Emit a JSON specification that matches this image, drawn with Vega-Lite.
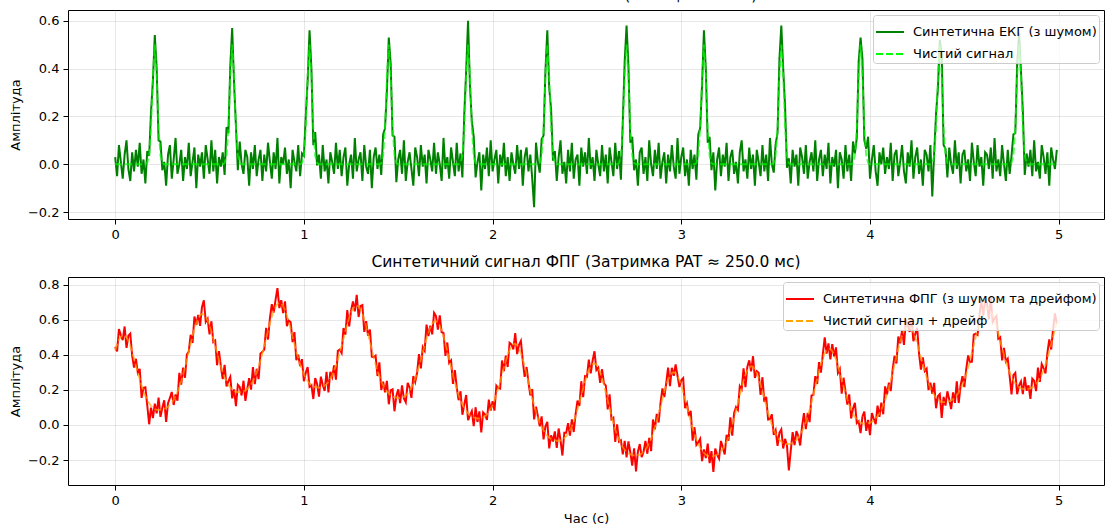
{
"$schema": "https://vega.github.io/schema/vega-lite/v6.json",
"padding": {"left": 8, "top": -13, "right": 0, "bottom": 0},
"spacing": 12,
"config": {
 "font": "DejaVu Sans",
 "view": {"stroke": "#000000", "strokeWidth": 1},
 "axis": {"grid": true, "gridColor": "#b0b0b0", "gridOpacity": 0.3, "gridWidth": 1, "domain": false, "tickColor": "#000000", "tickSize": 5, "tickWidth": 1, "labelFontSize": 13, "labelColor": "#000000", "labelPadding": 4, "titleFontSize": 13, "titleFontWeight": "normal", "titleColor": "#000000", "labelFlush": false},
 "title": {"fontSize": 15.5, "fontWeight": "normal", "color": "#000000", "offset": 7},
 "legend": {"orient": "top-right", "offset": 5, "labelFontSize": 13, "labelColor": "#000000", "symbolType": "stroke", "symbolSize": 784, "symbolStrokeWidth": 1.8, "fillColor": "rgba(255,255,255,0.8)", "strokeColor": "#cccccc", "cornerRadius": 3, "padding": 2, "rowPadding": -9, "labelOffset": 8, "labelLimit": 0}
},
"resolve": {"scale": {"color": "independent", "strokeDash": "independent", "y": "independent"}, "legend": {"color": "independent", "strokeDash": "independent"}},
"data": {"values": [
{"t":0,"en":0.03,"ec":0,"pn":0.445,"pc":0.425},
{"t":0.01,"en":-0.05,"ec":0,"pn":0.419,"pc":0.459},
{"t":0.02,"en":0.08,"ec":0,"pn":0.546,"pc":0.486},
{"t":0.03,"en":0.01,"ec":0,"pn":0.511,"pc":0.501},
{"t":0.04,"en":-0.06,"ec":0,"pn":0.483,"pc":0.513},
{"t":0.05,"en":0.04,"ec":0,"pn":0.561,"pc":0.511},
{"t":0.06,"en":0.10,"ec":0,"pn":0.439,"pc":0.499},
{"t":0.07,"en":-0.02,"ec":0,"pn":0.508,"pc":0.478},
{"t":0.08,"en":-0.07,"ec":0,"pn":0.520,"pc":0.450},
{"t":0.09,"en":0.05,"ec":0,"pn":0.395,"pc":0.415},
{"t":0.10,"en":-0.03,"ec":0,"pn":0.327,"pc":0.377},
{"t":0.11,"en":0.06,"ec":0,"pn":0.377,"pc":0.337},
{"t":0.12,"en":-0.01,"ec":0,"pn":0.297,"pc":0.297},
{"t":0.13,"en":0.09,"ec":0,"pn":0.320,"pc":0.260},
{"t":0.14,"en":-0.04,"ec":0,"pn":0.154,"pc":0.224},
{"t":0.15,"en":0.02,"ec":0,"pn":0.212,"pc":0.192},
{"t":0.16,"en":-0.08,"ec":0,"pn":0.215,"pc":0.165},
{"t":0.17,"en":0.055,"ec":0.005,"pn":0.112,"pc":0.142},
{"t":0.18,"en":0.035,"ec":0.035,"pn":0.004,"pc":0.124},
{"t":0.19,"en":0.22,"ec":0.15,"pn":0.099,"pc":0.109},
{"t":0.20,"en":0.35,"ec":0.37,"pn":0.039,"pc":0.099},
{"t":0.21,"en":0.54,"ec":0.5,"pn":0.121,"pc":0.091},
{"t":0.22,"en":0.40,"ec":0.37,"pn":0.066,"pc":0.086},
{"t":0.23,"en":0.10,"ec":0.15,"pn":0.156,"pc":0.086},
{"t":0.24,"en":0.095,"ec":0.035,"pn":0.046,"pc":0.086},
{"t":0.25,"en":-0.025,"ec":0.005,"pn":0.099,"pc":0.089},
{"t":0.26,"en":0.01,"ec":0,"pn":0.141,"pc":0.091},
{"t":0.27,"en":-0.09,"ec":0,"pn":0.017,"pc":0.097},
{"t":0.28,"en":0.04,"ec":0,"pn":0.124,"pc":0.104},
{"t":0.29,"en":0.08,"ec":0,"pn":0.154,"pc":0.114},
{"t":0.30,"en":-0.06,"ec":0,"pn":0.188,"pc":0.128},
{"t":0.31,"en":0.02,"ec":0,"pn":0.114,"pc":0.144},
{"t":0.32,"en":0.11,"ec":0,"pn":0.174,"pc":0.164},
{"t":0.33,"en":-0.04,"ec":0,"pn":0.138,"pc":0.188},
{"t":0.34,"en":0,"ec":0,"pn":0.297,"pc":0.217},
{"t":0.35,"en":0.06,"ec":0,"pn":0.230,"pc":0.250},
{"t":0.36,"en":-0.07,"ec":0,"pn":0.327,"pc":0.287},
{"t":0.37,"en":0.03,"ec":0,"pn":0.269,"pc":0.329},
{"t":0.38,"en":-0.02,"ec":0,"pn":0.402,"pc":0.372},
{"t":0.39,"en":0.09,"ec":0,"pn":0.418,"pc":0.418},
{"t":0.40,"en":-0.05,"ec":0,"pn":0.514,"pc":0.464},
{"t":0.41,"en":0.01,"ec":0,"pn":0.467,"pc":0.507},
{"t":0.42,"en":0.07,"ec":0,"pn":0.618,"pc":0.548},
{"t":0.43,"en":-0.10,"ec":0,"pn":0.571,"pc":0.581},
{"t":0.44,"en":0.04,"ec":0,"pn":0.627,"pc":0.607},
{"t":0.45,"en":-0.01,"ec":0,"pn":0.565,"pc":0.625},
{"t":0.46,"en":0.05,"ec":0,"pn":0.672,"pc":0.632},
{"t":0.47,"en":-0.06,"ec":0,"pn":0.710,"pc":0.630},
{"t":0.48,"en":0.08,"ec":0,"pn":0.587,"pc":0.617},
{"t":0.49,"en":0.02,"ec":0,"pn":0.605,"pc":0.595},
{"t":0.50,"en":-0.04,"ec":0,"pn":0.516,"pc":0.566},
{"t":0.51,"en":0.10,"ec":0,"pn":0.591,"pc":0.531},
{"t":0.52,"en":-0.03,"ec":0,"pn":0.472,"pc":0.492},
{"t":0.53,"en":0.06,"ec":0,"pn":0.481,"pc":0.451},
{"t":0.54,"en":-0.08,"ec":0,"pn":0.340,"pc":0.410},
{"t":0.55,"en":0.03,"ec":0,"pn":0.421,"pc":0.371},
{"t":0.56,"en":-0.01,"ec":0,"pn":0.334,"pc":0.334},
{"t":0.57,"en":0.05,"ec":0,"pn":0.261,"pc":0.301},
{"t":0.58,"en":-0.045,"ec":0.005,"pn":0.343,"pc":0.273},
{"t":0.59,"en":0.155,"ec":0.035,"pn":0.219,"pc":0.249},
{"t":0.60,"en":0.13,"ec":0.15,"pn":0.250,"pc":0.230},
{"t":0.61,"en":0.41,"ec":0.37,"pn":0.274,"pc":0.214},
{"t":0.62,"en":0.57,"ec":0.5,"pn":0.152,"pc":0.202},
{"t":0.63,"en":0.34,"ec":0.37,"pn":0.203,"pc":0.193},
{"t":0.64,"en":0.16,"ec":0.15,"pn":0.107,"pc":0.187},
{"t":0.65,"en":-0.025,"ec":0.035,"pn":0.228,"pc":0.188},
{"t":0.66,"en":0.095,"ec":0.005,"pn":0.216,"pc":0.186},
{"t":0.67,"en":0,"ec":0,"pn":0.168,"pc":0.188},
{"t":0.68,"en":-0.04,"ec":0,"pn":0.252,"pc":0.192},
{"t":0.69,"en":0.06,"ec":0,"pn":0.137,"pc":0.197},
{"t":0.70,"en":0.03,"ec":0,"pn":0.205,"pc":0.205},
{"t":0.71,"en":-0.09,"ec":0,"pn":0.267,"pc":0.217},
{"t":0.72,"en":0.05,"ec":0,"pn":0.201,"pc":0.231},
{"t":0.73,"en":-0.02,"ec":0,"pn":0.330,"pc":0.250},
{"t":0.74,"en":0.08,"ec":0,"pn":0.233,"pc":0.273},
{"t":0.75,"en":-0.05,"ec":0,"pn":0.320,"pc":0.300},
{"t":0.76,"en":0.02,"ec":0,"pn":0.261,"pc":0.331},
{"t":0.77,"en":0.06,"ec":0,"pn":0.407,"pc":0.367},
{"t":0.78,"en":-0.07,"ec":0,"pn":0.417,"pc":0.407},
{"t":0.79,"en":0.04,"ec":0,"pn":0.429,"pc":0.449},
{"t":0.80,"en":-0.03,"ec":0,"pn":0.553,"pc":0.493},
{"t":0.81,"en":0.09,"ec":0,"pn":0.487,"pc":0.537},
{"t":0.82,"en":0.01,"ec":0,"pn":0.609,"pc":0.579},
{"t":0.83,"en":-0.06,"ec":0,"pn":0.688,"pc":0.618},
{"t":0.84,"en":0.05,"ec":0,"pn":0.640,"pc":0.650},
{"t":0.85,"en":-0.02,"ec":0,"pn":0.714,"pc":0.674},
{"t":0.86,"en":0.11,"ec":0,"pn":0.780,"pc":0.690},
{"t":0.87,"en":-0.08,"ec":0,"pn":0.666,"pc":0.696},
{"t":0.88,"en":0.03,"ec":0,"pn":0.711,"pc":0.691},
{"t":0.89,"en":0,"ec":0,"pn":0.637,"pc":0.677},
{"t":0.90,"en":0.07,"ec":0,"pn":0.704,"pc":0.654},
{"t":0.91,"en":-0.04,"ec":0,"pn":0.563,"pc":0.623},
{"t":0.92,"en":0.02,"ec":0,"pn":0.595,"pc":0.585},
{"t":0.93,"en":-0.10,"ec":0,"pn":0.585,"pc":0.545},
{"t":0.94,"en":0.06,"ec":0,"pn":0.472,"pc":0.502},
{"t":0.95,"en":0.01,"ec":0,"pn":0.529,"pc":0.459},
{"t":0.96,"en":-0.03,"ec":0,"pn":0.369,"pc":0.419},
{"t":0.97,"en":0.08,"ec":0,"pn":0.400,"pc":0.380},
{"t":0.98,"en":-0.05,"ec":0,"pn":0.335,"pc":0.345},
{"t":0.99,"en":0.045,"ec":0.005,"pn":0.375,"pc":0.315},
{"t":1.00,"en":0.035,"ec":0.035,"pn":0.249,"pc":0.289},
{"t":1.01,"en":0.20,"ec":0.15,"pn":0.298,"pc":0.268},
{"t":1.02,"en":0.35,"ec":0.37,"pn":0.330,"pc":0.250},
{"t":1.03,"en":0.56,"ec":0.5,"pn":0.217,"pc":0.237},
{"t":1.04,"en":0.40,"ec":0.37,"pn":0.226,"pc":0.226},
{"t":1.05,"en":0.08,"ec":0.15,"pn":0.148,"pc":0.218},
{"t":1.06,"en":0.135,"ec":0.035,"pn":0.267,"pc":0.217},
{"t":1.07,"en":-0.005,"ec":0.005,"pn":0.234,"pc":0.214},
{"t":1.08,"en":0.04,"ec":0,"pn":0.162,"pc":0.212},
{"t":1.09,"en":-0.06,"ec":0,"pn":0.275,"pc":0.215},
{"t":1.10,"en":0.08,"ec":0,"pn":0.228,"pc":0.218},
{"t":1.11,"en":-0.03,"ec":0,"pn":0.194,"pc":0.224},
{"t":1.12,"en":0.02,"ec":0,"pn":0.303,"pc":0.233},
{"t":1.13,"en":-0.08,"ec":0,"pn":0.186,"pc":0.246},
{"t":1.14,"en":0.05,"ec":0,"pn":0.303,"pc":0.263},
{"t":1.15,"en":0.01,"ec":0,"pn":0.273,"pc":0.283},
{"t":1.16,"en":-0.04,"ec":0,"pn":0.339,"pc":0.309},
{"t":1.17,"en":0.09,"ec":0,"pn":0.258,"pc":0.338},
{"t":1.18,"en":-0.02,"ec":0,"pn":0.422,"pc":0.372},
{"t":1.19,"en":0.06,"ec":0,"pn":0.430,"pc":0.410},
{"t":1.20,"en":-0.05,"ec":0,"pn":0.410,"pc":0.450},
{"t":1.21,"en":0.03,"ec":0,"pn":0.552,"pc":0.492},
{"t":1.22,"en":0.07,"ec":0,"pn":0.514,"pc":0.534},
{"t":1.23,"en":-0.09,"ec":0,"pn":0.654,"pc":0.574},
{"t":1.24,"en":0,"ec":0,"pn":0.561,"pc":0.611},
{"t":1.25,"en":0.04,"ec":0,"pn":0.651,"pc":0.641},
{"t":1.26,"en":-0.06,"ec":0,"pn":0.704,"pc":0.664},
{"t":1.27,"en":0.11,"ec":0,"pn":0.647,"pc":0.677},
{"t":1.28,"en":-0.03,"ec":0,"pn":0.741,"pc":0.681},
{"t":1.29,"en":0.02,"ec":0,"pn":0.615,"pc":0.675},
{"t":1.30,"en":0.05,"ec":0,"pn":0.678,"pc":0.658},
{"t":1.31,"en":-0.07,"ec":0,"pn":0.683,"pc":0.633},
{"t":1.32,"en":0.08,"ec":0,"pn":0.530,"pc":0.600},
{"t":1.33,"en":-0.01,"ec":0,"pn":0.591,"pc":0.561},
{"t":1.34,"en":-0.04,"ec":0,"pn":0.508,"pc":0.518},
{"t":1.35,"en":0.06,"ec":0,"pn":0.544,"pc":0.474},
{"t":1.36,"en":-0.10,"ec":0,"pn":0.389,"pc":0.429},
{"t":1.37,"en":0.03,"ec":0,"pn":0.386,"pc":0.386},
{"t":1.38,"en":0.07,"ec":0,"pn":0.395,"pc":0.345},
{"t":1.39,"en":-0.02,"ec":0,"pn":0.279,"pc":0.309},
{"t":1.40,"en":0.04,"ec":0,"pn":0.357,"pc":0.277},
{"t":1.41,"en":-0.045,"ec":0.005,"pn":0.199,"pc":0.249},
{"t":1.42,"en":0.125,"ec":0.035,"pn":0.246,"pc":0.226},
{"t":1.43,"en":0.15,"ec":0.15,"pn":0.186,"pc":0.206},
{"t":1.44,"en":0.31,"ec":0.37,"pn":0.251,"pc":0.191},
{"t":1.45,"en":0.53,"ec":0.5,"pn":0.118,"pc":0.178},
{"t":1.46,"en":0.42,"ec":0.37,"pn":0.198,"pc":0.168},
{"t":1.47,"en":0.12,"ec":0.15,"pn":0.203,"pc":0.163},
{"t":1.48,"en":0.115,"ec":0.035,"pn":0.078,"pc":0.158},
{"t":1.49,"en":-0.075,"ec":0.005,"pn":0.166,"pc":0.156},
{"t":1.50,"en":0.02,"ec":0,"pn":0.203,"pc":0.153},
{"t":1.51,"en":0.06,"ec":0,"pn":0.124,"pc":0.154},
{"t":1.52,"en":-0.04,"ec":0,"pn":0.226,"pc":0.156},
{"t":1.53,"en":0.10,"ec":0,"pn":0.151,"pc":0.161},
{"t":1.54,"en":-0.07,"ec":0,"pn":0.129,"pc":0.169},
{"t":1.55,"en":0.01,"ec":0,"pn":0.240,"pc":0.180},
{"t":1.56,"en":0.05,"ec":0,"pn":0.215,"pc":0.195},
{"t":1.57,"en":-0.02,"ec":0,"pn":0.154,"pc":0.214},
{"t":1.58,"en":-0.09,"ec":0,"pn":0.278,"pc":0.238},
{"t":1.59,"en":0.07,"ec":0,"pn":0.245,"pc":0.265},
{"t":1.60,"en":0.03,"ec":0,"pn":0.298,"pc":0.298},
{"t":1.61,"en":-0.05,"ec":0,"pn":0.404,"pc":0.334},
{"t":1.62,"en":0.08,"ec":0,"pn":0.322,"pc":0.372},
{"t":1.63,"en":-0.01,"ec":0,"pn":0.443,"pc":0.413},
{"t":1.64,"en":0.04,"ec":0,"pn":0.423,"pc":0.453},
{"t":1.65,"en":-0.08,"ec":0,"pn":0.572,"pc":0.492},
{"t":1.66,"en":0.06,"ec":0,"pn":0.507,"pc":0.527},
{"t":1.67,"en":0.02,"ec":0,"pn":0.565,"pc":0.555},
{"t":1.68,"en":-0.03,"ec":0,"pn":0.516,"pc":0.576},
{"t":1.69,"en":0.09,"ec":0,"pn":0.639,"pc":0.589},
{"t":1.70,"en":-0.04,"ec":0,"pn":0.621,"pc":0.591},
{"t":1.71,"en":0.05,"ec":0,"pn":0.543,"pc":0.583},
{"t":1.72,"en":0,"ec":0,"pn":0.625,"pc":0.565},
{"t":1.73,"en":-0.07,"ec":0,"pn":0.528,"pc":0.538},
{"t":1.74,"en":0.11,"ec":0,"pn":0.524,"pc":0.504},
{"t":1.75,"en":-0.02,"ec":0,"pn":0.394,"pc":0.464},
{"t":1.76,"en":0.03,"ec":0,"pn":0.470,"pc":0.420},
{"t":1.77,"en":-0.06,"ec":0,"pn":0.354,"pc":0.374},
{"t":1.78,"en":0.07,"ec":0,"pn":0.368,"pc":0.328},
{"t":1.79,"en":0.01,"ec":0,"pn":0.234,"pc":0.284},
{"t":1.80,"en":-0.05,"ec":0,"pn":0.312,"pc":0.242},
{"t":1.81,"en":0.09,"ec":0,"pn":0.214,"pc":0.204},
{"t":1.82,"en":-0.03,"ec":0,"pn":0.141,"pc":0.171},
{"t":1.83,"en":0.045,"ec":0.005,"pn":0.192,"pc":0.142},
{"t":1.84,"en":-0.055,"ec":0.035,"pn":0.058,"pc":0.118},
{"t":1.85,"en":0.21,"ec":0.15,"pn":0.117,"pc":0.097},
{"t":1.86,"en":0.39,"ec":0.37,"pn":0.171,"pc":0.081},
{"t":1.87,"en":0.60,"ec":0.5,"pn":0.027,"pc":0.067},
{"t":1.88,"en":0.33,"ec":0.37,"pn":0.055,"pc":0.055},
{"t":1.89,"en":0.18,"ec":0.15,"pn":0.079,"pc":0.049},
{"t":1.90,"en":0.115,"ec":0.035,"pn":-0.007,"pc":0.043},
{"t":1.91,"en":-0.055,"ec":0.005,"pn":0.100,"pc":0.040},
{"t":1.92,"en":0.01,"ec":0,"pn":0.017,"pc":0.037},
{"t":1.93,"en":0.05,"ec":0,"pn":0.077,"pc":0.037},
{"t":1.94,"en":-0.11,"ec":0,"pn":-0.042,"pc":0.038},
{"t":1.95,"en":0.04,"ec":0,"pn":0.072,"pc":0.042},
{"t":1.96,"en":-0.02,"ec":0,"pn":0.060,"pc":0.050},
{"t":1.97,"en":0.07,"ec":0,"pn":0.029,"pc":0.059},
{"t":1.98,"en":-0.05,"ec":0,"pn":0.144,"pc":0.074},
{"t":1.99,"en":0.10,"ec":0,"pn":0.082,"pc":0.092},
{"t":2.00,"en":-0.03,"ec":0,"pn":0.135,"pc":0.115},
{"t":2.01,"en":0.02,"ec":0,"pn":0.082,"pc":0.142},
{"t":2.02,"en":0.06,"ec":0,"pn":0.224,"pc":0.174},
{"t":2.03,"en":-0.08,"ec":0,"pn":0.210,"pc":0.210},
{"t":2.04,"en":0.04,"ec":0,"pn":0.207,"pc":0.247},
{"t":2.05,"en":-0.01,"ec":0,"pn":0.367,"pc":0.287},
{"t":2.06,"en":0.09,"ec":0,"pn":0.307,"pc":0.327},
{"t":2.07,"en":-0.05,"ec":0,"pn":0.395,"pc":0.365},
{"t":2.08,"en":0.03,"ec":0,"pn":0.330,"pc":0.400},
{"t":2.09,"en":-0.07,"ec":0,"pn":0.468,"pc":0.428},
{"t":2.10,"en":0.05,"ec":0,"pn":0.459,"pc":0.449},
{"t":2.11,"en":0,"ec":0,"pn":0.431,"pc":0.461},
{"t":2.12,"en":-0.04,"ec":0,"pn":0.523,"pc":0.463},
{"t":2.13,"en":0.08,"ec":0,"pn":0.404,"pc":0.454},
{"t":2.14,"en":-0.02,"ec":0,"pn":0.456,"pc":0.436},
{"t":2.15,"en":0.06,"ec":0,"pn":0.479,"pc":0.409},
{"t":2.16,"en":-0.09,"ec":0,"pn":0.365,"pc":0.375},
{"t":2.17,"en":0.03,"ec":0,"pn":0.274,"pc":0.334},
{"t":2.18,"en":0.07,"ec":0,"pn":0.330,"pc":0.290},
{"t":2.19,"en":-0.03,"ec":0,"pn":0.244,"pc":0.244},
{"t":2.20,"en":0.04,"ec":0,"pn":0.168,"pc":0.198},
{"t":2.21,"en":-0.06,"ec":0,"pn":0.204,"pc":0.154},
{"t":2.22,"en":-0.18,"ec":0,"pn":0.032,"pc":0.112},
{"t":2.23,"en":0.09,"ec":0,"pn":0.104,"pc":0.074},
{"t":2.24,"en":0.01,"ec":0,"pn":0.051,"pc":0.041},
{"t":2.25,"en":-0.035,"ec":0.005,"pn":-0.008,"pc":0.012},
{"t":2.26,"en":0.105,"ec":0.035,"pn":0.049,"pc":-0.011},
{"t":2.27,"en":0.12,"ec":0.15,"pn":-0.082,"pc":-0.032},
{"t":2.28,"en":0.39,"ec":0.37,"pn":-0.008,"pc":-0.048},
{"t":2.29,"en":0.56,"ec":0.5,"pn":0.018,"pc":-0.062},
{"t":2.30,"en":0.32,"ec":0.37,"pn":-0.133,"pc":-0.073},
{"t":2.31,"en":0.23,"ec":0.15,"pn":-0.059,"pc":-0.079},
{"t":2.32,"en":0.015,"ec":0.035,"pn":-0.094,"pc":-0.084},
{"t":2.33,"en":0.055,"ec":0.005,"pn":-0.037,"pc":-0.087},
{"t":2.34,"en":-0.07,"ec":0,"pn":-0.130,"pc":-0.090},
{"t":2.35,"en":0.03,"ec":0,"pn":-0.020,"pc":-0.090},
{"t":2.36,"en":0.10,"ec":0,"pn":-0.088,"pc":-0.088},
{"t":2.37,"en":-0.04,"ec":0,"pn":-0.174,"pc":-0.084},
{"t":2.38,"en":0.01,"ec":0,"pn":-0.045,"pc":-0.075},
{"t":2.39,"en":-0.08,"ec":0,"pn":-0.045,"pc":-0.065},
{"t":2.40,"en":0.06,"ec":0,"pn":0.010,"pc":-0.050},
{"t":2.41,"en":-0.03,"ec":0,"pn":-0.061,"pc":-0.031},
{"t":2.42,"en":0.09,"ec":0,"pn":0.032,"pc":-0.008},
{"t":2.43,"en":-0.06,"ec":0,"pn":-0.040,"pc":0.020},
{"t":2.44,"en":0.02,"ec":0,"pn":0.063,"pc":0.053},
{"t":2.45,"en":0.04,"ec":0,"pn":0.139,"pc":0.089},
{"t":2.46,"en":-0.09,"ec":0,"pn":0.108,"pc":0.128},
{"t":2.47,"en":0.07,"ec":0,"pn":0.248,"pc":0.168},
{"t":2.48,"en":-0.01,"ec":0,"pn":0.159,"pc":0.209},
{"t":2.49,"en":0.05,"ec":0,"pn":0.278,"pc":0.248},
{"t":2.50,"en":-0.04,"ec":0,"pn":0.274,"pc":0.284},
{"t":2.51,"en":0.11,"ec":0,"pn":0.372,"pc":0.312},
{"t":2.52,"en":-0.02,"ec":0,"pn":0.294,"pc":0.334},
{"t":2.53,"en":0.03,"ec":0,"pn":0.367,"pc":0.347},
{"t":2.54,"en":-0.07,"ec":0,"pn":0.420,"pc":0.350},
{"t":2.55,"en":0.06,"ec":0,"pn":0.313,"pc":0.343},
{"t":2.56,"en":0,"ec":0,"pn":0.326,"pc":0.326},
{"t":2.57,"en":-0.05,"ec":0,"pn":0.240,"pc":0.300},
{"t":2.58,"en":0.08,"ec":0,"pn":0.317,"pc":0.267},
{"t":2.59,"en":-0.03,"ec":0,"pn":0.237,"pc":0.227},
{"t":2.60,"en":0.04,"ec":0,"pn":0.224,"pc":0.184},
{"t":2.61,"en":-0.08,"ec":0,"pn":0.089,"pc":0.139},
{"t":2.62,"en":0.07,"ec":0,"pn":0.175,"pc":0.095},
{"t":2.63,"en":0.01,"ec":0,"pn":0.032,"pc":0.052},
{"t":2.64,"en":-0.05,"ec":0,"pn":0.041,"pc":0.011},
{"t":2.65,"en":0.09,"ec":0,"pn":-0.096,"pc":-0.026},
{"t":2.66,"en":-0.02,"ec":0,"pn":0.003,"pc":-0.057},
{"t":2.67,"en":0.055,"ec":0.005,"pn":-0.095,"pc":-0.085},
{"t":2.68,"en":-0.065,"ec":0.035,"pn":-0.087,"pc":-0.107},
{"t":2.69,"en":0.18,"ec":0.15,"pn":-0.167,"pc":-0.127},
{"t":2.70,"en":0.43,"ec":0.37,"pn":-0.091,"pc":-0.141},
{"t":2.71,"en":0.58,"ec":0.5,"pn":-0.184,"pc":-0.154},
{"t":2.72,"en":0.41,"ec":0.37,"pn":-0.093,"pc":-0.163},
{"t":2.73,"en":0.09,"ec":0.15,"pn":-0.157,"pc":-0.167},
{"t":2.74,"en":0.115,"ec":0.035,"pn":-0.232,"pc":-0.172},
{"t":2.75,"en":-0.025,"ec":0.005,"pn":-0.133,"pc":-0.173},
{"t":2.76,"en":0.02,"ec":0,"pn":-0.264,"pc":-0.174},
{"t":2.77,"en":-0.09,"ec":0,"pn":-0.152,"pc":-0.172},
{"t":2.78,"en":0.05,"ec":0,"pn":-0.109,"pc":-0.169},
{"t":2.79,"en":0.07,"ec":0,"pn":-0.183,"pc":-0.163},
{"t":2.80,"en":-0.04,"ec":0,"pn":-0.153,"pc":-0.153},
{"t":2.81,"en":0.03,"ec":0,"pn":-0.091,"pc":-0.141},
{"t":2.82,"en":-0.07,"ec":0,"pn":-0.164,"pc":-0.124},
{"t":2.83,"en":0.10,"ec":0,"pn":-0.074,"pc":-0.104},
{"t":2.84,"en":0,"ec":0,"pn":-0.149,"pc":-0.079},
{"t":2.85,"en":-0.05,"ec":0,"pn":0.031,"pc":-0.049},
{"t":2.86,"en":0.06,"ec":0,"pn":-0.025,"pc":-0.015},
{"t":2.87,"en":-0.02,"ec":0,"pn":0.063,"pc":0.023},
{"t":2.88,"en":0.09,"ec":0,"pn":0.014,"pc":0.064},
{"t":2.89,"en":-0.06,"ec":0,"pn":0.126,"pc":0.106},
{"t":2.90,"en":0.01,"ec":0,"pn":0.208,"pc":0.148},
{"t":2.91,"en":0.05,"ec":0,"pn":0.159,"pc":0.189},
{"t":2.92,"en":-0.08,"ec":0,"pn":0.237,"pc":0.227},
{"t":2.93,"en":0.04,"ec":0,"pn":0.327,"pc":0.257},
{"t":2.94,"en":-0.03,"ec":0,"pn":0.221,"pc":0.281},
{"t":2.95,"en":0.08,"ec":0,"pn":0.326,"pc":0.296},
{"t":2.96,"en":-0.01,"ec":0,"pn":0.280,"pc":0.300},
{"t":2.97,"en":-0.06,"ec":0,"pn":0.345,"pc":0.295},
{"t":2.98,"en":0.11,"ec":0,"pn":0.280,"pc":0.280},
{"t":2.99,"en":-0.04,"ec":0,"pn":0.216,"pc":0.256},
{"t":3.00,"en":0.03,"ec":0,"pn":0.255,"pc":0.225},
{"t":3.01,"en":0.07,"ec":0,"pn":0.267,"pc":0.187},
{"t":3.02,"en":-0.05,"ec":0,"pn":0.096,"pc":0.146},
{"t":3.03,"en":0.02,"ec":0,"pn":0.123,"pc":0.103},
{"t":3.04,"en":-0.09,"ec":0,"pn":0.051,"pc":0.061},
{"t":3.05,"en":0.06,"ec":0,"pn":0.080,"pc":0.020},
{"t":3.06,"en":-0.02,"ec":0,"pn":-0.089,"pc":-0.019},
{"t":3.07,"en":0.04,"ec":0,"pn":-0.013,"pc":-0.053},
{"t":3.08,"en":-0.065,"ec":0.005,"pn":-0.113,"pc":-0.083},
{"t":3.09,"en":0.125,"ec":0.035,"pn":-0.099,"pc":-0.109},
{"t":3.10,"en":0.15,"ec":0.15,"pn":-0.079,"pc":-0.129},
{"t":3.11,"en":0.33,"ec":0.37,"pn":-0.206,"pc":-0.146},
{"t":3.12,"en":0.56,"ec":0.5,"pn":-0.139,"pc":-0.159},
{"t":3.13,"en":0.40,"ec":0.37,"pn":-0.189,"pc":-0.169},
{"t":3.14,"en":0.09,"ec":0.15,"pn":-0.106,"pc":-0.176},
{"t":3.15,"en":0.115,"ec":0.035,"pn":-0.217,"pc":-0.177},
{"t":3.16,"en":-0.025,"ec":0.005,"pn":-0.149,"pc":-0.179},
{"t":3.17,"en":0.05,"ec":0,"pn":-0.268,"pc":-0.178},
{"t":3.18,"en":-0.11,"ec":0,"pn":-0.134,"pc":-0.174},
{"t":3.19,"en":0.02,"ec":0,"pn":-0.170,"pc":-0.170},
{"t":3.20,"en":0.07,"ec":0,"pn":-0.192,"pc":-0.162},
{"t":3.21,"en":-0.05,"ec":0,"pn":-0.091,"pc":-0.151},
{"t":3.22,"en":0.04,"ec":0,"pn":-0.127,"pc":-0.137},
{"t":3.23,"en":-0.01,"ec":0,"pn":-0.168,"pc":-0.118},
{"t":3.24,"en":0.09,"ec":0,"pn":-0.056,"pc":-0.096},
{"t":3.25,"en":-0.07,"ec":0,"pn":-0.089,"pc":-0.069},
{"t":3.26,"en":0.03,"ec":0,"pn":0.043,"pc":-0.037},
{"t":3.27,"en":0.06,"ec":0,"pn":-0.061,"pc":-0.001},
{"t":3.28,"en":-0.04,"ec":0,"pn":0.069,"pc":0.039},
{"t":3.29,"en":0.01,"ec":0,"pn":0.102,"pc":0.082},
{"t":3.30,"en":-0.08,"ec":0,"pn":0.086,"pc":0.126},
{"t":3.31,"en":0.05,"ec":0,"pn":0.221,"pc":0.171},
{"t":3.32,"en":0.10,"ec":0,"pn":0.203,"pc":0.213},
{"t":3.33,"en":-0.03,"ec":0,"pn":0.323,"pc":0.253},
{"t":3.34,"en":0.02,"ec":0,"pn":0.215,"pc":0.285},
{"t":3.35,"en":-0.06,"ec":0,"pn":0.331,"pc":0.311},
{"t":3.36,"en":0.07,"ec":0,"pn":0.368,"pc":0.328},
{"t":3.37,"en":-0.02,"ec":0,"pn":0.305,"pc":0.335},
{"t":3.38,"en":0.04,"ec":0,"pn":0.391,"pc":0.331},
{"t":3.39,"en":-0.09,"ec":0,"pn":0.268,"pc":0.318},
{"t":3.40,"en":0.06,"ec":0,"pn":0.306,"pc":0.296},
{"t":3.41,"en":0.01,"ec":0,"pn":0.297,"pc":0.267},
{"t":3.42,"en":-0.05,"ec":0,"pn":0.171,"pc":0.231},
{"t":3.43,"en":0.08,"ec":0,"pn":0.272,"pc":0.192},
{"t":3.44,"en":-0.03,"ec":0,"pn":0.131,"pc":0.151},
{"t":3.45,"en":0.04,"ec":0,"pn":0.160,"pc":0.110},
{"t":3.46,"en":-0.07,"ec":0,"pn":0.031,"pc":0.071},
{"t":3.47,"en":0.11,"ec":0,"pn":0.034,"pc":0.034},
{"t":3.48,"en":0,"ec":0,"pn":0.061,"pc":0.001},
{"t":3.49,"en":-0.035,"ec":0.005,"pn":-0.056,"pc":-0.026},
{"t":3.50,"en":0.085,"ec":0.035,"pn":-0.030,"pc":-0.050},
{"t":3.51,"en":0.13,"ec":0.15,"pn":-0.119,"pc":-0.069},
{"t":3.52,"en":0.44,"ec":0.37,"pn":-0.045,"pc":-0.085},
{"t":3.53,"en":0.58,"ec":0.5,"pn":-0.025,"pc":-0.095},
{"t":3.54,"en":0.40,"ec":0.37,"pn":-0.134,"pc":-0.104},
{"t":3.55,"en":0.24,"ec":0.15,"pn":-0.079,"pc":-0.109},
{"t":3.56,"en":-0.015,"ec":0.035,"pn":-0.118,"pc":-0.108},
{"t":3.57,"en":0.025,"ec":0.005,"pn":-0.259,"pc":-0.109},
{"t":3.58,"en":-0.08,"ec":0,"pn":-0.146,"pc":-0.106},
{"t":3.59,"en":0.06,"ec":0,"pn":-0.041,"pc":-0.101},
{"t":3.60,"en":-0.01,"ec":0,"pn":-0.115,"pc":-0.095},
{"t":3.61,"en":0.04,"ec":0,"pn":-0.035,"pc":-0.085},
{"t":3.62,"en":-0.09,"ec":0,"pn":-0.063,"pc":-0.073},
{"t":3.63,"en":0.07,"ec":0,"pn":-0.117,"pc":-0.057},
{"t":3.64,"en":0.03,"ec":0,"pn":-0.007,"pc":-0.037},
{"t":3.65,"en":-0.04,"ec":0,"pn":0.067,"pc":-0.013},
{"t":3.66,"en":0.08,"ec":0,"pn":-0.024,"pc":0.016},
{"t":3.67,"en":-0.06,"ec":0,"pn":0.069,"pc":0.049},
{"t":3.68,"en":0.01,"ec":0,"pn":0.016,"pc":0.086},
{"t":3.69,"en":0.05,"ec":0,"pn":0.168,"pc":0.128},
{"t":3.70,"en":-0.03,"ec":0,"pn":0.172,"pc":0.172},
{"t":3.71,"en":0.10,"ec":0,"pn":0.278,"pc":0.218},
{"t":3.72,"en":-0.07,"ec":0,"pn":0.234,"pc":0.264},
{"t":3.73,"en":0.02,"ec":0,"pn":0.358,"pc":0.308},
{"t":3.74,"en":0.06,"ec":0,"pn":0.298,"pc":0.348},
{"t":3.75,"en":-0.05,"ec":0,"pn":0.402,"pc":0.382},
{"t":3.76,"en":0.04,"ec":0,"pn":0.499,"pc":0.409},
{"t":3.77,"en":-0.02,"ec":0,"pn":0.407,"pc":0.427},
{"t":3.78,"en":0.09,"ec":0,"pn":0.465,"pc":0.435},
{"t":3.79,"en":-0.08,"ec":0,"pn":0.373,"pc":0.433},
{"t":3.80,"en":0.03,"ec":0,"pn":0.461,"pc":0.421},
{"t":3.81,"en":-0.01,"ec":0,"pn":0.390,"pc":0.400},
{"t":3.82,"en":0.06,"ec":0,"pn":0.442,"pc":0.372},
{"t":3.83,"en":-0.10,"ec":0,"pn":0.297,"pc":0.337},
{"t":3.84,"en":0.05,"ec":0,"pn":0.319,"pc":0.299},
{"t":3.85,"en":0.02,"ec":0,"pn":0.179,"pc":0.259},
{"t":3.86,"en":-0.06,"ec":0,"pn":0.269,"pc":0.219},
{"t":3.87,"en":0.08,"ec":0,"pn":0.192,"pc":0.182},
{"t":3.88,"en":-0.03,"ec":0,"pn":0.116,"pc":0.146},
{"t":3.89,"en":0.04,"ec":0,"pn":0.174,"pc":0.114},
{"t":3.90,"en":-0.07,"ec":0,"pn":0.037,"pc":0.087},
{"t":3.91,"en":0.095,"ec":0.005,"pn":0.094,"pc":0.064},
{"t":3.92,"en":0.045,"ec":0.035,"pn":0.126,"pc":0.046},
{"t":3.93,"en":0.11,"ec":0.15,"pn":0.011,"pc":0.031},
{"t":3.94,"en":0.43,"ec":0.37,"pn":0.021,"pc":0.021},
{"t":3.95,"en":0.53,"ec":0.5,"pn":-0.047,"pc":0.013},
{"t":3.96,"en":0.44,"ec":0.37,"pn":0.049,"pc":0.009},
{"t":3.97,"en":0.10,"ec":0.15,"pn":0.076,"pc":0.006},
{"t":3.98,"en":0.065,"ec":0.035,"pn":-0.034,"pc":0.006},
{"t":3.99,"en":0.115,"ec":0.005,"pn":0.029,"pc":0.009},
{"t":4.00,"en":-0.06,"ec":0,"pn":-0.058,"pc":0.012},
{"t":4.01,"en":0.02,"ec":0,"pn":0.068,"pc":0.018},
{"t":4.02,"en":0.08,"ec":0,"pn":0.035,"pc":0.025},
{"t":4.03,"en":-0.03,"ec":0,"pn":0.005,"pc":0.035},
{"t":4.04,"en":-0.09,"ec":0,"pn":0.110,"pc":0.050},
{"t":4.05,"en":0.05,"ec":0,"pn":0.046,"pc":0.066},
{"t":4.06,"en":0,"ec":0,"pn":0.127,"pc":0.087},
{"t":4.07,"en":0.07,"ec":0,"pn":0.061,"pc":0.111},
{"t":4.08,"en":-0.04,"ec":0,"pn":0.220,"pc":0.140},
{"t":4.09,"en":0.03,"ec":0,"pn":0.173,"pc":0.173},
{"t":4.10,"en":-0.02,"ec":0,"pn":0.241,"pc":0.211},
{"t":4.11,"en":0.09,"ec":0,"pn":0.193,"pc":0.253},
{"t":4.12,"en":-0.07,"ec":0,"pn":0.317,"pc":0.297},
{"t":4.13,"en":0.04,"ec":0,"pn":0.394,"pc":0.344},
{"t":4.14,"en":0.06,"ec":0,"pn":0.350,"pc":0.390},
{"t":4.15,"en":-0.05,"ec":0,"pn":0.504,"pc":0.434},
{"t":4.16,"en":0.01,"ec":0,"pn":0.465,"pc":0.475},
{"t":4.17,"en":0.08,"ec":0,"pn":0.539,"pc":0.509},
{"t":4.18,"en":-0.03,"ec":0,"pn":0.456,"pc":0.536},
{"t":4.19,"en":-0.08,"ec":0,"pn":0.594,"pc":0.554},
{"t":4.20,"en":0.05,"ec":0,"pn":0.572,"pc":0.562},
{"t":4.21,"en":-0.01,"ec":0,"pn":0.530,"pc":0.560},
{"t":4.22,"en":0.10,"ec":0,"pn":0.608,"pc":0.548},
{"t":4.23,"en":-0.06,"ec":0,"pn":0.477,"pc":0.527},
{"t":4.24,"en":0.03,"ec":0,"pn":0.519,"pc":0.499},
{"t":4.25,"en":0.07,"ec":0,"pn":0.554,"pc":0.464},
{"t":4.26,"en":-0.04,"ec":0,"pn":0.405,"pc":0.425},
{"t":4.27,"en":0.02,"ec":0,"pn":0.315,"pc":0.385},
{"t":4.28,"en":-0.09,"ec":0,"pn":0.385,"pc":0.345},
{"t":4.29,"en":0.06,"ec":0,"pn":0.307,"pc":0.307},
{"t":4.30,"en":0.04,"ec":0,"pn":0.321,"pc":0.271},
{"t":4.31,"en":-0.03,"ec":0,"pn":0.199,"pc":0.239},
{"t":4.32,"en":0.08,"ec":0,"pn":0.241,"pc":0.211},
{"t":4.33,"en":-0.135,"ec":0.005,"pn":0.178,"pc":0.188},
{"t":4.34,"en":0.045,"ec":0.035,"pn":0.240,"pc":0.170},
{"t":4.35,"en":0.21,"ec":0.15,"pn":0.095,"pc":0.155},
{"t":4.36,"en":0.32,"ec":0.37,"pn":0.164,"pc":0.144},
{"t":4.37,"en":0.52,"ec":0.5,"pn":0.176,"pc":0.136},
{"t":4.38,"en":0.46,"ec":0.37,"pn":0.040,"pc":0.130},
{"t":4.39,"en":0.08,"ec":0.15,"pn":0.160,"pc":0.130},
{"t":4.40,"en":0.065,"ec":0.035,"pn":0.110,"pc":0.130},
{"t":4.41,"en":-0.055,"ec":0.005,"pn":0.192,"pc":0.132},
{"t":4.42,"en":0.07,"ec":0,"pn":0.145,"pc":0.135},
{"t":4.43,"en":0,"ec":0,"pn":0.090,"pc":0.140},
{"t":4.44,"en":-0.04,"ec":0,"pn":0.186,"pc":0.146},
{"t":4.45,"en":0.10,"ec":0,"pn":0.126,"pc":0.156},
{"t":4.46,"en":-0.02,"ec":0,"pn":0.249,"pc":0.169},
{"t":4.47,"en":0.05,"ec":0,"pn":0.125,"pc":0.185},
{"t":4.48,"en":-0.08,"ec":0,"pn":0.225,"pc":0.205},
{"t":4.49,"en":0.04,"ec":0,"pn":0.278,"pc":0.228},
{"t":4.50,"en":0.06,"ec":0,"pn":0.216,"pc":0.256},
{"t":4.51,"en":-0.03,"ec":0,"pn":0.319,"pc":0.289},
{"t":4.52,"en":0.02,"ec":0,"pn":0.396,"pc":0.326},
{"t":4.53,"en":-0.07,"ec":0,"pn":0.357,"pc":0.367},
{"t":4.54,"en":0.09,"ec":0,"pn":0.360,"pc":0.410},
{"t":4.55,"en":0.01,"ec":0,"pn":0.515,"pc":0.455},
{"t":4.56,"en":-0.05,"ec":0,"pn":0.520,"pc":0.500},
{"t":4.57,"en":0.08,"ec":0,"pn":0.513,"pc":0.543},
{"t":4.58,"en":-0.01,"ec":0,"pn":0.623,"pc":0.583},
{"t":4.59,"en":0.03,"ec":0,"pn":0.716,"pc":0.616},
{"t":4.60,"en":-0.09,"ec":0,"pn":0.622,"pc":0.642},
{"t":4.61,"en":0.05,"ec":0,"pn":0.709,"pc":0.659},
{"t":4.62,"en":0.04,"ec":0,"pn":0.695,"pc":0.665},
{"t":4.63,"en":-0.02,"ec":0,"pn":0.602,"pc":0.662},
{"t":4.64,"en":0.07,"ec":0,"pn":0.729,"pc":0.649},
{"t":4.65,"en":-0.06,"ec":0,"pn":0.587,"pc":0.627},
{"t":4.66,"en":0.11,"ec":0,"pn":0.607,"pc":0.597},
{"t":4.67,"en":-0.03,"ec":0,"pn":0.621,"pc":0.561},
{"t":4.68,"en":0.02,"ec":0,"pn":0.491,"pc":0.521},
{"t":4.69,"en":-0.05,"ec":0,"pn":0.500,"pc":0.480},
{"t":4.70,"en":0.08,"ec":0,"pn":0.368,"pc":0.438},
{"t":4.71,"en":0,"ec":0,"pn":0.439,"pc":0.399},
{"t":4.72,"en":-0.07,"ec":0,"pn":0.361,"pc":0.361},
{"t":4.73,"en":0.06,"ec":0,"pn":0.377,"pc":0.327},
{"t":4.74,"en":-0.04,"ec":0,"pn":0.279,"pc":0.299},
{"t":4.75,"en":0.035,"ec":0.005,"pn":0.174,"pc":0.274},
{"t":4.76,"en":0.125,"ec":0.035,"pn":0.284,"pc":0.254},
{"t":4.77,"en":0.13,"ec":0.15,"pn":0.297,"pc":0.237},
{"t":4.78,"en":0.42,"ec":0.37,"pn":0.175,"pc":0.225},
{"t":4.79,"en":0.55,"ec":0.5,"pn":0.225,"pc":0.215},
{"t":4.80,"en":0.39,"ec":0.37,"pn":0.248,"pc":0.208},
{"t":4.81,"en":0.22,"ec":0.15,"pn":0.176,"pc":0.206},
{"t":4.82,"en":-0.045,"ec":0.035,"pn":0.274,"pc":0.204},
{"t":4.83,"en":0.045,"ec":0.005,"pn":0.195,"pc":0.205},
{"t":4.84,"en":-0.01,"ec":0,"pn":0.226,"pc":0.206},
{"t":4.85,"en":0.06,"ec":0,"pn":0.149,"pc":0.209},
{"t":4.86,"en":-0.05,"ec":0,"pn":0.264,"pc":0.214},
{"t":4.87,"en":0.10,"ec":0,"pn":0.252,"pc":0.222},
{"t":4.88,"en":-0.03,"ec":0,"pn":0.193,"pc":0.233},
{"t":4.89,"en":0.01,"ec":0,"pn":0.327,"pc":0.247},
{"t":4.90,"en":-0.06,"ec":0,"pn":0.246,"pc":0.266},
{"t":4.91,"en":0.08,"ec":0,"pn":0.347,"pc":0.287},
{"t":4.92,"en":0.03,"ec":0,"pn":0.323,"pc":0.313},
{"t":4.93,"en":-0.04,"ec":0,"pn":0.294,"pc":0.344},
{"t":4.94,"en":0.05,"ec":0,"pn":0.409,"pc":0.379},
{"t":4.95,"en":-0.09,"ec":0,"pn":0.488,"pc":0.418},
{"t":4.96,"en":0.07,"ec":0,"pn":0.430,"pc":0.460},
{"t":4.97,"en":0.02,"ec":0,"pn":0.543,"pc":0.503},
{"t":4.98,"en":-0.02,"ec":0,"pn":0.636,"pc":0.546},
{"t":4.99,"en":0.06,"ec":0,"pn":0.577,"pc":0.587}
]},
"vconcat": [
 {
  "title": {"text": "Синтетичний сигнал ЕКГ (імітація R-піків)"},
  "width": 1036, "height": 209,
  "transform": [{"fold": ["en", "ec"], "as": ["k", "v"]}],
  "encoding": {
   "x": {"field": "t", "type": "quantitative", "scale": {"domain": [-0.25, 5.24], "nice": false, "zero": false}, "axis": {"values": [0, 1, 2, 3, 4, 5], "format": "d", "title": null}},
   "y": {"field": "v", "type": "quantitative", "scale": {"domain": [-0.229, 0.645], "nice": false, "zero": false}, "axis": {"values": [-0.2, 0, 0.2, 0.4, 0.6], "format": ".1f", "title": "Амплітуда", "titlePadding": 5}},
   "color": {"field": "k", "type": "nominal", "scale": {"domain": ["en", "ec"], "range": ["#008000", "#00ff00"]}, "legend": {"title": null, "labelExpr": "datum.value === 'en' ? 'Синтетична ЕКГ (з шумом)' : 'Чистий сигнал'"}},
   "strokeDash": {"field": "k", "type": "nominal", "scale": {"domain": ["en", "ec"], "range": [[1, 0], [7, 3]]}, "legend": {"title": null, "labelExpr": "datum.value === 'en' ? 'Синтетична ЕКГ (з шумом)' : 'Чистий сигнал'"}}
  },
  "layer": [
   {"transform": [{"filter": "datum.k === 'en'"}], "mark": {"type": "line", "strokeWidth": 2}},
   {"transform": [{"filter": "datum.k === 'ec'"}], "mark": {"type": "line", "strokeWidth": 1.8, "strokeOpacity": 0.7}}
  ]
 },
 {
  "title": {"text": "Синтетичний сигнал ФПГ (Затримка PAT ≈ 250.0 мс)"},
  "width": 1036, "height": 208,
  "transform": [{"fold": ["pn", "pc"], "as": ["k", "v"]}],
  "encoding": {
   "x": {"field": "t", "type": "quantitative", "scale": {"domain": [-0.25, 5.24], "nice": false, "zero": false}, "axis": {"values": [0, 1, 2, 3, 4, 5], "format": "d", "title": "Час (с)", "titlePadding": 5}},
   "y": {"field": "v", "type": "quantitative", "scale": {"domain": [-0.342, 0.843], "nice": false, "zero": false}, "axis": {"values": [-0.2, 0, 0.2, 0.4, 0.6, 0.8], "format": ".1f", "title": "Амплітуда", "titlePadding": 5}},
   "color": {"field": "k", "type": "nominal", "scale": {"domain": ["pn", "pc"], "range": ["#ff0000", "#ffa500"]}, "legend": {"title": null, "labelExpr": "datum.value === 'pn' ? 'Синтетична ФПГ (з шумом та дрейфом)' : 'Чистий сигнал + дрейф'"}},
   "strokeDash": {"field": "k", "type": "nominal", "scale": {"domain": ["pn", "pc"], "range": [[1, 0], [7, 3]]}, "legend": {"title": null, "labelExpr": "datum.value === 'pn' ? 'Синтетична ФПГ (з шумом та дрейфом)' : 'Чистий сигнал + дрейф'"}}
  },
  "layer": [
   {"transform": [{"filter": "datum.k === 'pn'"}], "mark": {"type": "line", "strokeWidth": 2}},
   {"transform": [{"filter": "datum.k === 'pc'"}], "mark": {"type": "line", "strokeWidth": 1.8, "strokeOpacity": 0.7}}
  ]
 }
]
}
